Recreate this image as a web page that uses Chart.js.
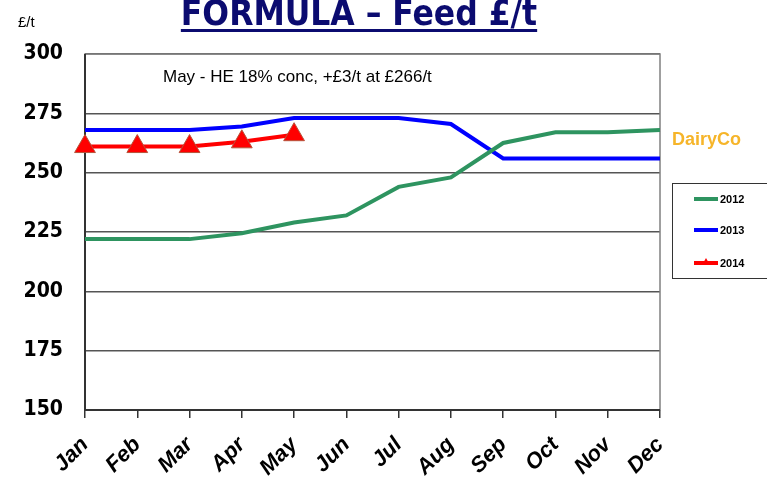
<!DOCTYPE html>
<html>
<head>
<meta charset="utf-8">
<script src="https://cdn.jsdelivr.net/npm/chart.js@4"></script>
<style>
    html, body { margin: 0; padding: 0; background: #fff; }
    #feed { display: block; }
</style>
</head>
<body>
<canvas id="feed" width="767" height="480"></canvas>
<script>
const months = ['Jan', 'Feb', 'Mar', 'Apr', 'May', 'Jun', 'Jul', 'Aug', 'Sep', 'Oct', 'Nov', 'Dec'];
const feed2012 = [222, 222, 222, 224.5, 229, 232, 244, 248, 262.5, 267, 267, 268];
const feed2013 = [268, 268, 268, 269.5, 273, 273, 273, 270.5, 256, 256, 256, 256];
const feed2014 = [261, 261, 261, 263, 266];
const yMin = 150;
const yMax = 300;
const yStep = 25;

const titleText = 'FORMULA \u2013 Feed \u00a3/t';
const unitText = '\u00a3/t';
const noteText = 'May - HE 18% conc, +\u00a33/t at \u00a3266/t';
const logoText = 'DairyCo';

// titulo, notas, borda e legenda desenhados a mao
const extras = {
    id: 'extras',
    beforeDatasetsDraw(chart) {
        const ctx = chart.ctx;
        const a = chart.chartArea;
        ctx.save();
        ctx.strokeStyle = '#808080';
        ctx.lineWidth = 1.5;
        ctx.strokeRect(a.left, a.top, a.right - a.left, a.bottom - a.top);
        ctx.strokeStyle = '#333';
        ctx.lineWidth = 2;
        ctx.beginPath();
        ctx.moveTo(a.left, a.top);
        ctx.lineTo(a.left, a.bottom);
        ctx.lineTo(a.right, a.bottom);
        ctx.stroke();
        ctx.restore();
    },
    afterDraw(chart) {
        const ctx = chart.ctx;
        ctx.save();

        ctx.fillStyle = '#0b0b70';
        ctx.font = 'bold 35px "DejaVu Sans Condensed"';
        ctx.textAlign = 'center';
        ctx.textBaseline = 'alphabetic';
        ctx.fillText(titleText, 359, 25);
        const w = ctx.measureText(titleText).width;
        ctx.fillRect(359 - w / 2, 29, w, 3);

        ctx.fillStyle = '#000';
        ctx.font = '15px "Liberation Sans"';
        ctx.textAlign = 'left';
        ctx.fillText(unitText, 18, 27);

        ctx.font = '17px "Liberation Sans"';
        ctx.fillText(noteText, 163, 82);

        ctx.fillStyle = '#f6b52a';
        ctx.font = 'bold 18px "Liberation Sans"';
        ctx.fillText(logoText, 672, 145);

        // legenda
        ctx.strokeStyle = '#333';
        ctx.lineWidth = 1;
        ctx.strokeRect(672.5, 183.5, 100, 95);
        const rows = [199, 230, 263];
        chart.data.datasets.forEach((ds, i) => {
            const y = rows[i];
            ctx.strokeStyle = ds.borderColor;
            ctx.lineWidth = 4;
            ctx.beginPath();
            ctx.moveTo(694, y);
            ctx.lineTo(718, y);
            ctx.stroke();
            if (ds.pointRadius > 0) {
                ctx.fillStyle = ds.pointBackgroundColor;
                ctx.beginPath();
                ctx.moveTo(706, y - 5);
                ctx.lineTo(710, y + 2);
                ctx.lineTo(702, y + 2);
                ctx.closePath();
                ctx.fill();
            }
            ctx.fillStyle = '#000';
            ctx.font = 'bold 11px "Liberation Sans"';
            ctx.textBaseline = 'middle';
            ctx.fillText(ds.label, 720, y + 1);
        });
        ctx.restore();
    }
};

const ctx = document.getElementById('feed').getContext('2d');
new Chart(ctx, {
    type: 'line',
    data: {
        labels: months,
        datasets: [
            {
                label: '2012',
                data: feed2012,
                borderColor: '#2e9460',
                borderWidth: 4,
                pointRadius: 0,
                tension: 0
            },
            {
                label: '2013',
                data: feed2013,
                borderColor: '#0000ff',
                borderWidth: 4,
                pointRadius: 0,
                tension: 0
            },
            {
                label: '2014',
                data: feed2014,
                borderColor: '#ff0000',
                borderWidth: 4,
                pointStyle: 'triangle',
                pointRadius: 12,
                pointBackgroundColor: '#ff0000',
                pointBorderColor: '#b5533a',
                pointBorderWidth: 1,
                tension: 0
            }
        ]
    },
    options: {
        responsive: false,
        animation: false,
        layout: {
            padding: { top: 54, right: 107, left: 0, bottom: 0 }
        },
        plugins: {
            legend: { display: false },
            title: { display: false },
            tooltip: { enabled: false }
        },
        scales: {
            x: {
                offset: false,
                border: { display: false },
                afterFit: (scale) => { scale.height = 70; },
                grid: {
                    drawOnChartArea: false,
                    drawTicks: true,
                    tickLength: 8,
                    color: '#333',
                    lineWidth: 1.5
                },
                ticks: {
                    color: '#000',
                    minRotation: 45,
                    maxRotation: 45,
                    padding: 14,
                    font: { family: '"Liberation Sans"', size: 22, weight: 'bold', style: 'italic' }
                }
            },
            y: {
                min: yMin,
                max: yMax,
                border: { display: false },
                afterFit: (scale) => { scale.width = 85; },
                grid: {
                    drawTicks: false,
                    color: '#555',
                    lineWidth: 1.5
                },
                ticks: {
                    stepSize: yStep,
                    color: '#000',
                    padding: 22,
                    font: { family: '"DejaVu Sans Condensed"', size: 21, weight: 'bold' }
                }
            }
        }
    },
    plugins: [extras]
});
</script>
</body>
</html>
